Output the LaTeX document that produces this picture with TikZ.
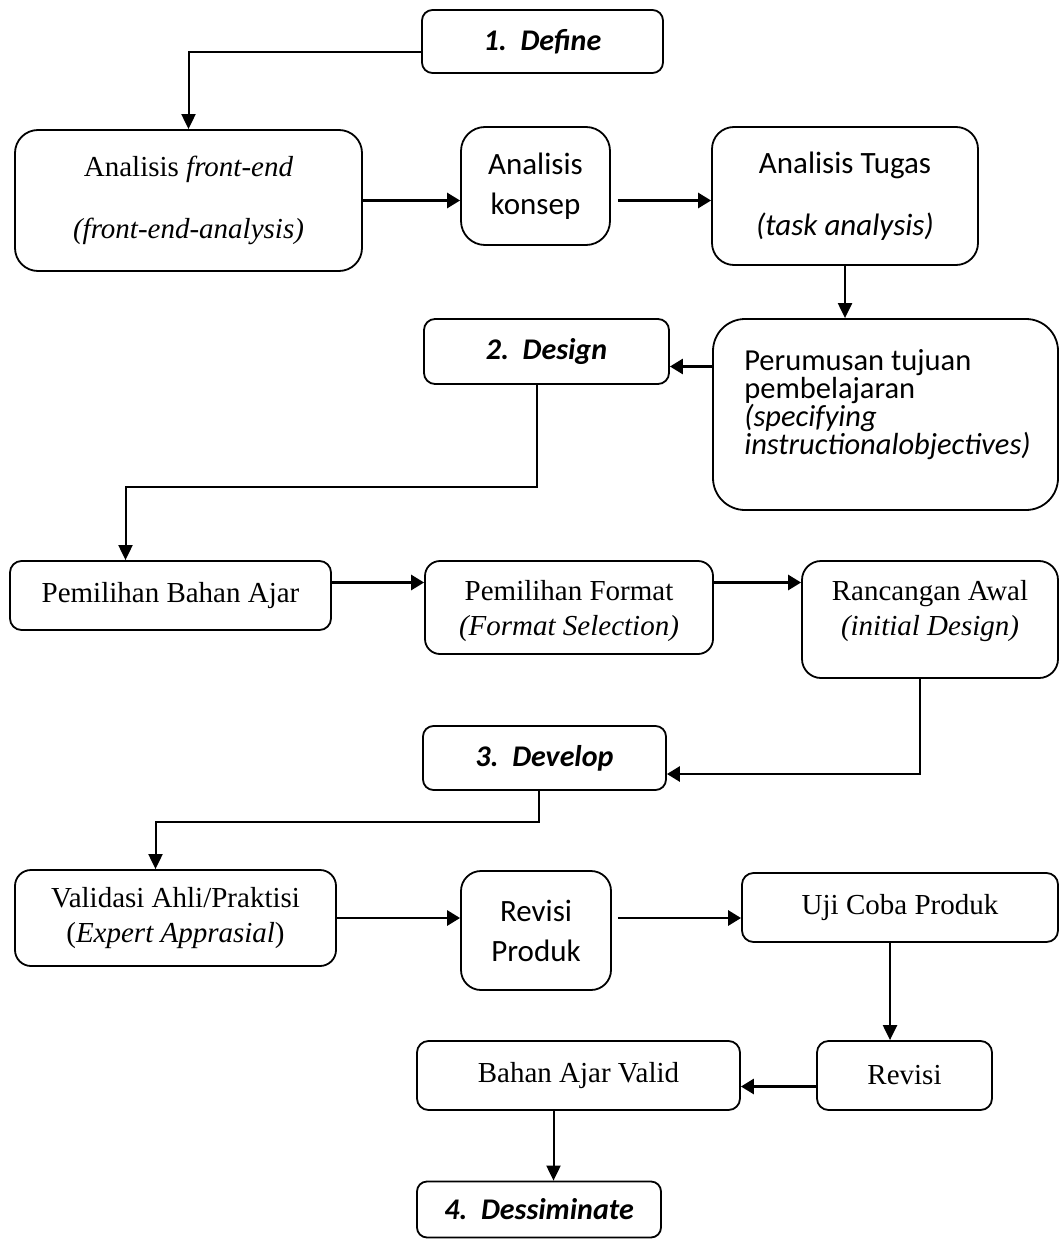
\documentclass[tikz,border=0pt]{standalone}
\usepackage{fontspec}
\setmainfont{Liberation Serif}
\newfontfamily\calib{Carlito}
\usetikzlibrary{arrows.meta}
\begin{document}
\begin{tikzpicture}[x=1pt,y=-1pt,
  box/.style={draw, line width=1.8pt, rounded corners=#1, inner sep=0pt, align=center},
  box/.default=11pt,
  txt/.style={inner sep=0pt, align=center},
  tms/.style={font=\fontsize{29}{35}\selectfont},
  cal/.style={font=\calib\fontsize{31}{40}\selectfont},
  stage/.style={font=\calib\bfseries\itshape\fontsize{30}{35}\selectfont},
  harrow/.style={line width=2.8pt, -{Triangle[length=13pt,width=15pt]}},
  varrow/.style={line width=2.2pt, -{Triangle[length=15pt,width=14pt]}},
  elbow/.style={line width=2pt, -{Triangle[length=15pt,width=14pt]}},
]
\useasboundingbox[fill=white] (0,0) rectangle (1060,1241);

% stage boxes
\node[box=10.5pt, stage, minimum width=241pt, minimum height=63pt] (def) at (542.5,41.5) {1.~~Define};
\node[box=11pt, stage, minimum width=245pt, minimum height=65pt] (de) at (546.5,351.5) {2.~~Design};
\node[box=10.5pt, stage, minimum width=243pt, minimum height=64pt] (dv) at (544.5,758) {3.~~Develop};
\node[box=10pt, stage, minimum width=244pt, minimum height=56pt] (ds) at (539,1209.5) {4.~~Dessiminate};

% define phase
\node[box=23pt, tms, minimum width=347pt, minimum height=141pt] (fe) at (188.5,200.5)
  {Analisis \textit{front-end}\\[27pt]\textit{(front-end-analysis)}};
\node[box=24pt, cal, minimum width=149pt, minimum height=118pt] (ko) at (535.5,186)
  {Analisis\\konsep};
\node[box=22pt, cal, minimum width=266pt, minimum height=138pt] (tu) at (845,196)
  {Analisis Tugas\\[22pt]\textit{(task analysis)}};
\node[box=32pt, minimum width=345pt, minimum height=191pt] (pe) at (885.5,414.5) {};
\node[txt, font=\calib\fontsize{30.5}{28}\selectfont, align=left] (pe-t) at ([yshift=10pt,xshift=2pt]pe.center)
  {Perumusan tujuan\\pembelajaran\\\textit{(specifying}\\\textit{instructionalobjectives)}};

% design phase
\node[box=11.5pt, tms, minimum width=321pt, minimum height=69pt] (ba) at (170.5,595.5)
  {Pemilihan Bahan Ajar};
\node[box=15pt, minimum width=288pt, minimum height=93pt] (fo) at (569,607.5) {};
\node[txt, tms] (fo-t) at ([yshift=-4pt]fo.center)
  {Pemilihan Format\\\textit{(Format Selection)}};
\node[box=19pt, minimum width=256pt, minimum height=117pt] (ra) at (930,619.5) {};
\node[txt, tms] (ra-t) at ([yshift=8pt]ra.center)
  {Rancangan Awal\\\textit{(initial Design)}};

% develop phase
\node[box=16pt, tms, minimum width=321pt, minimum height=96pt] (va) at (175.5,918)
  {Validasi Ahli/Praktisi\\(\textit{Expert Apprasial})};
\node[box=20pt, cal, minimum width=150pt, minimum height=119pt] (rp) at (536,930.5)
  {Revisi\\Produk};
\node[box=11.5pt, tms, minimum width=316pt, minimum height=69pt] (uj) at (900,907.5)
  {Uji Coba Produk};
\node[box=11.5pt, tms, minimum width=175pt, minimum height=69pt] (rv) at (904.5,1075.5)
  {Revisi};
\node[box=11.5pt, tms, minimum width=323pt, minimum height=69pt] (bv) at (578.5,1075.5)
  {Bahan Ajar Valid};

% connectors
\draw[elbow] ([yshift=-11pt]def.west) -| (fe.north);
\draw[harrow] (fe.east) -- (fe.east -| ko.west);
\draw[harrow, shorten <=7pt] (ko.east |- fe.east) -- (tu.west |- fe.east);
\draw[varrow] (tu.south) -- (tu.south |- pe.north);
\coordinate (p1) at ([yshift=-15pt]de.east);
\draw[harrow] (pe.west |- p1) -- (p1);
\coordinate (d1) at ([xshift=-10pt]de.south);
\draw[elbow] (d1) -- ++(0,102) -| ([xshift=-45pt]ba.north);
\coordinate (r3) at ([yshift=13pt]ba.east);
\draw[harrow] (r3) -- (r3 -| fo.west);
\draw[harrow] (fo.east |- r3) -- (ra.west |- r3);
\draw[harrow] ([xshift=-10pt]ra.south) |- ([yshift=-16pt]dv.east);
\coordinate (d2) at ([xshift=-6pt]dv.south);
\draw[elbow] (d2) -- ++(0,31) -| ([xshift=-20pt]va.north);
\draw[harrow] (va.east) -- (va.east -| rp.west);
\draw[harrow, shorten <=6pt] (rp.east |- va.east) -- (uj.west |- va.east);
\coordinate (u1) at ([xshift=-10pt]uj.south);
\draw[varrow] (u1) -- (u1 |- rv.north);
\coordinate (v1) at ([yshift=-11pt]rv.west);
\draw[harrow] (v1) -- (v1 -| bv.east);
\coordinate (b1) at ([xshift=-25pt]bv.south);
\draw[elbow] (b1) -- (b1 |- ds.north);
\end{tikzpicture}
\end{document}
